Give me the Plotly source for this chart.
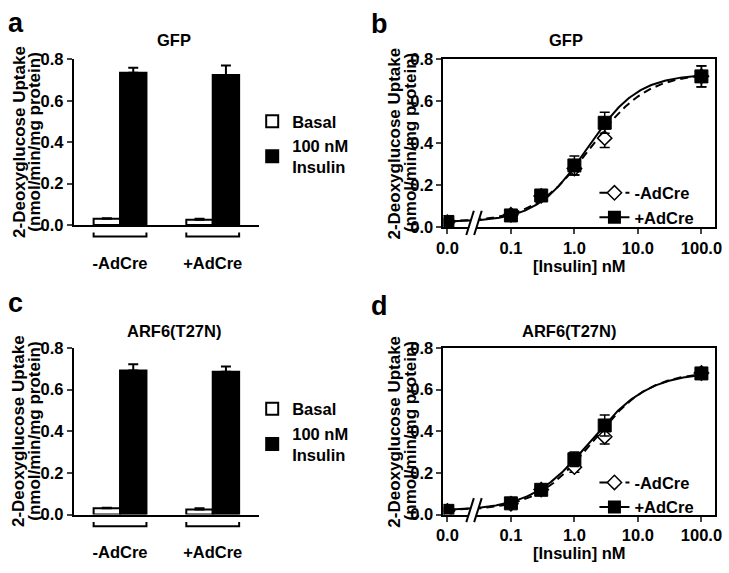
import numpy as np
import plotly.graph_objects as go

W, H = 729, 573
FONT = "Liberation Sans, Arial, Helvetica, sans-serif"

# ---------------- data ----------------
groups = ["-AdCre", "+AdCre"]

# panel a (GFP) bar chart
a_basal = [0.030, 0.025]
a_basal_err = [0.003, 0.005]
a_insulin = [0.735, 0.725]
a_insulin_err = [0.025, 0.045]

# panel c (ARF6(T27N)) bar chart
c_basal = [0.030, 0.025]
c_basal_err = [0.003, 0.005]
c_insulin = [0.692, 0.686]
c_insulin_err = [0.030, 0.025]

# dose-response (0 nM is drawn at the 0.01 position, labelled "0.0")
doses = [0.01, 0.1, 0.3, 1.0, 3.0, 100.0]
dose_tickvals = [0.01, 0.1, 1, 10, 100]
dose_ticktext = ["0.0", "0.1", "1.0", "10.0", "100.0"]

b_minus = [0.025, 0.060, 0.150, 0.280, 0.425, 0.720]
b_minus_err = [0.005, 0.020, 0.010, 0.030, 0.045, 0.050]
b_plus = [0.026, 0.057, 0.152, 0.295, 0.498, 0.719]
b_plus_err = [0.005, 0.010, 0.015, 0.045, 0.050, 0.050]

d_minus = [0.018, 0.052, 0.120, 0.228, 0.374, 0.680]
d_minus_err = [0.004, 0.008, 0.008, 0.025, 0.035, 0.020]
d_plus = [0.018, 0.054, 0.119, 0.266, 0.428, 0.678]
d_plus_err = [0.004, 0.006, 0.008, 0.035, 0.050, 0.020]

# fitted sigmoid (Hill) parameters: bottom, top, EC50 (nM), Hill slope
b_minus_fit = (0.025, 0.735, 1.80, 0.98)
b_plus_fit = (0.025, 0.730, 1.60, 1.09)
d_minus_fit = (0.018, 0.688, 1.95, 0.97)
d_plus_fit = (0.018, 0.685, 1.77, 0.94)

yticks = [0.0, 0.2, 0.4, 0.6, 0.8]
yticktext = ["0.0", "0.2", "0.4", "0.6", "0.8"]


def px(x):
    return x / W


def py(y):
    return 1 - y / H


def hill(x, p):
    bot, top, ec, n = p
    x = np.asarray(x)
    return bot + (top - bot) / (1 + (ec / x) ** n)


curve_x = np.logspace(-2, 2, 300)
DASH = "8px,5px"

fig = go.Figure()

# ---------------- bar panels ----------------
for xa, ya, leg, basal, berr, ins, ierr in [
    ("x", "y", "legend", a_basal, a_basal_err, a_insulin, a_insulin_err),
    ("x3", "y3", "legend2", c_basal, c_basal_err, c_insulin, c_insulin_err),
]:
    fig.add_trace(go.Bar(
        x=groups, y=basal, name="Basal", xaxis=xa, yaxis=ya, legend=leg,
        marker=dict(color="white", line=dict(color="black", width=2)),
        error_y=dict(type="data", symmetric=False, array=berr, arrayminus=[0, 0],
                     color="black", thickness=2, width=5),
    ))
    fig.add_trace(go.Bar(
        x=groups, y=ins, name="100 nM<br>Insulin", xaxis=xa, yaxis=ya, legend=leg,
        marker=dict(color="black", line=dict(color="black", width=2)),
        error_y=dict(type="data", symmetric=False, array=ierr, arrayminus=[0, 0],
                     color="black", thickness=2, width=5),
    ))

# ---------------- dose-response panels ----------------
for xa, ya, leg, mn, mne, pl, ple, fmn, fpl in [
    ("x2", "y2", "legend3", b_minus, b_minus_err, b_plus, b_plus_err, b_minus_fit, b_plus_fit),
    ("x4", "y4", "legend4", d_minus, d_minus_err, d_plus, d_plus_err, d_minus_fit, d_plus_fit),
]:
    fig.add_trace(go.Scatter(
        x=curve_x, y=hill(curve_x, fmn), mode="lines", xaxis=xa, yaxis=ya,
        line=dict(color="black", width=2, dash=DASH), showlegend=False, hoverinfo="skip"))
    fig.add_trace(go.Scatter(
        x=curve_x, y=hill(curve_x, fpl), mode="lines", xaxis=xa, yaxis=ya,
        line=dict(color="black", width=2), showlegend=False, hoverinfo="skip"))
    fig.add_trace(go.Scatter(
        x=doses, y=mn, mode="markers", xaxis=xa, yaxis=ya, showlegend=False,
        marker=dict(symbol="diamond", size=11, color="white", line=dict(color="black", width=1.5)),
        error_y=dict(type="data", array=mne, color="black", thickness=1.5, width=5)))
    fig.add_trace(go.Scatter(
        x=doses, y=pl, mode="markers", xaxis=xa, yaxis=ya, showlegend=False,
        marker=dict(symbol="square", size=13, color="black", line=dict(color="black", width=1)),
        error_y=dict(type="data", array=ple, color="black", thickness=1.5, width=5)))
    fig.add_trace(go.Scatter(
        x=[None], y=[None], mode="lines+markers", name="-AdCre", xaxis=xa, yaxis=ya, legend=leg,
        line=dict(color="black", width=2, dash=DASH),
        marker=dict(symbol="diamond", size=11, color="white", line=dict(color="black", width=1.5))))
    fig.add_trace(go.Scatter(
        x=[None], y=[None], mode="lines+markers", name="+AdCre", xaxis=xa, yaxis=ya, legend=leg,
        line=dict(color="black", width=2),
        marker=dict(symbol="square", size=13, color="black")))

# ---------------- axes ----------------
FS = 16.5
tickfont = dict(family=FONT, size=FS, color="black", weight="bold")
common_y = dict(range=[0, 0.8], tickvals=yticks, ticktext=yticktext, ticks="outside",
                ticklen=5, tickwidth=2, showline=True, linewidth=2, linecolor="black",
                showgrid=False, zeroline=False, tickfont=tickfont, fixedrange=True)

bar_dom_x = [px(68), px(257)]
dr_dom_x = [px(445), px(722)]
top_dom_y_bar = [py(223), py(52)]
top_dom_y_dr = [py(225.5), py(52)]
bot_dom_y = [py(522), py(350)]

bar_x = dict(range=[-0.5, 1.5], showline=True, linewidth=2, linecolor="black", ticks="",
             showgrid=False, zeroline=False, tickfont=tickfont, ticklabelstandoff=22)
dr_x = dict(type="log", range=[-2.062, 2.216], tickvals=dose_tickvals, ticktext=dose_ticktext,
            ticks="outside", ticklen=5, tickwidth=2, showline=True, linewidth=2, linecolor="black",
            mirror=True, showgrid=False, zeroline=False, tickfont=tickfont,
            title=dict(text="[Insulin] nM", font=dict(family=FONT, size=FS, color="black", weight="bold"),
                       standoff=4))

fig.update_layout(
    xaxis=dict(domain=bar_dom_x, anchor="y", **bar_x),
    yaxis=dict(domain=top_dom_y_bar, anchor="x", **common_y),
    xaxis3=dict(domain=bar_dom_x, anchor="y3", **bar_x),
    yaxis3=dict(domain=bot_dom_y, anchor="x3", **common_y),
    xaxis2=dict(domain=dr_dom_x, anchor="y2", **dr_x),
    yaxis2=dict(domain=top_dom_y_dr, anchor="x2", mirror=True, **common_y),
    xaxis4=dict(domain=dr_dom_x, anchor="y4", **dr_x),
    yaxis4=dict(domain=bot_dom_y, anchor="x4", mirror=True, **common_y),
)

legfont = dict(family=FONT, size=FS, color="black", weight="bold")
legcommon = dict(font=legfont, bgcolor="rgba(0,0,0,0)", tracegroupgap=0, traceorder="normal",
                 yanchor="top")
fig.update_layout(
    legend=dict(x=px(250), y=py(98), xanchor="left", **legcommon),
    legend2=dict(x=px(250), y=py(395), xanchor="left", **legcommon),
    legend3=dict(x=px(706), y=py(172), xanchor="right", **legcommon),
    legend4=dict(x=px(706), y=py(471), xanchor="right", **legcommon),
)

# ---------------- decorations ----------------
shapes = []
for xr, yr in [("x", "y domain"), ("x3", "y3 domain")]:
    for i in range(len(groups)):
        x0, x1 = i - 0.285, i + 0.285
        shapes.append(dict(type="path", xref=xr, yref=yr,
                           path=f"M {x0},-0.045 L {x0},-0.07 L {x1},-0.07 L {x1},-0.045",
                           line=dict(color="black", width=2)))
for xr, yr in [("x2 domain", "y2 domain"), ("x4 domain", "y4 domain")]:
    shapes.append(dict(type="path", xref=xr, yref=yr,
                       path="M 0.0841,-0.045 L 0.1119,0.099 L 0.1408,0.099 L 0.1130,-0.045 Z",
                       fillcolor="white", line=dict(width=0)))
    shapes.append(dict(type="line", xref=xr, yref=yr, x0=0.0841, y0=-0.045, x1=0.1119, y1=0.099,
                       line=dict(color="black", width=2)))
    shapes.append(dict(type="line", xref=xr, yref=yr, x0=0.1130, y0=-0.045, x1=0.1408, y1=0.099,
                       line=dict(color="black", width=2)))
fig.update_layout(shapes=shapes)

ann = []
bold = dict(family=FONT, color="black", weight="bold")
for t, x, y in [("a", 9, 14), ("b", 380, 15), ("c", 9, 304), ("d", 380, 307)]:
    ann.append(dict(text=t, x=px(x), y=py(y), xref="paper", yref="paper", showarrow=False,
                    xanchor="center", yanchor="middle", font=dict(size=27, **bold)))
for t, x, y in [("GFP", 170, 32), ("GFP", 570, 32), ("ARF6(T27N)", 170, 332), ("ARF6(T27N)", 573, 332)]:
    ann.append(dict(text=t, x=px(x), y=py(y), xref="paper", yref="paper", showarrow=False,
                    xanchor="center", yanchor="middle", font=dict(size=FS, **bold)))
for x1, x2, yc in [(12, 28, 137.5), (395, 411, 138.5), (12, 28, 436), (395, 411, 436)]:
    ann.append(dict(text="2-Deoxyglucose Uptake", x=px(x1), y=py(yc), xref="paper", yref="paper",
                    showarrow=False, textangle=-90, xanchor="center", yanchor="middle",
                    font=dict(size=17, **bold)))
    ann.append(dict(text="(nmol/min/mg protein)", x=px(x2), y=py(yc), xref="paper", yref="paper",
                    showarrow=False, textangle=-90, xanchor="center", yanchor="middle",
                    font=dict(size=17, **bold)))
fig.update_layout(annotations=ann)

fig.update_layout(
    width=W, height=H, margin=dict(l=0, r=0, t=0, b=0),
    paper_bgcolor="white", plot_bgcolor="white",
    barmode="group", bargap=0.43, bargroupgap=0,
    font=dict(family=FONT, size=FS, color="black", weight="bold"),
    showlegend=True,
)

fig.write_html("out.html", config={"displayModeBar": False},
               post_script="document.body.style.margin='0';document.body.style.overflow='hidden';")
